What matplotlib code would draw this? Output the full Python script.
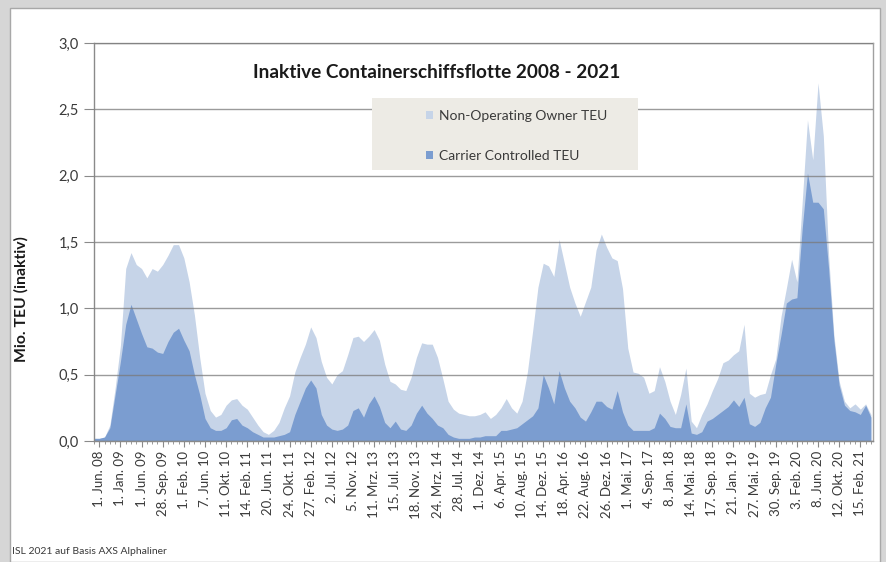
import numpy as np
import matplotlib
matplotlib.use('Agg')
import matplotlib.pyplot as plt
from matplotlib.patches import Rectangle

plt.rcParams['font.family'] = ['Lato', 'DejaVu Sans']

# Beschriftung der Kategorieachse (jede 18. Woche)
datum_labels = ["1. Jun. 08", "1. Jan. 09", "1. Jun. 09", "28. Sep. 09", "1. Feb. 10",
                "7. Jun. 10", "11. Okt. 10", "14. Feb. 11", "20. Jun. 11", "24. Okt. 11",
                "27. Feb. 12", "2. Jul. 12", "5. Nov. 12", "11. Mrz. 13", "15. Jul. 13",
                "18. Nov. 13", "24. Mrz. 14", "28. Jul. 14", "1. Dez. 14", "6. Apr. 15",
                "10. Aug. 15", "14. Dez. 15", "18. Apr. 16", "22. Aug. 16", "26. Dez. 16",
                "1. Mai. 17", "4. Sep. 17", "8. Jan. 18", "14. Mai. 18", "17. Sep. 18",
                "21. Jan. 19", "27. Mai. 19", "30. Sep. 19", "3. Feb. 20", "8. Jun. 20",
                "12. Okt. 20", "15. Feb. 21"]

# inaktive Flotte gesamt (Carrier + Non-Operating Owner), Mio. TEU
# 4 Werte je Label-Abstand, beginnend eine Viertel-Stufe vor "1. Jun. 08"
gesamt = [0.02,
          0.02, 0.03, 0.12, 0.40,   0.72, 1.30, 1.42, 1.33,   1.30, 1.23, 1.30, 1.28,
          1.33, 1.40, 1.48, 1.48,   1.38, 1.20, 0.95, 0.63,   0.36, 0.23, 0.18, 0.20,
          0.27, 0.31, 0.32, 0.27,   0.24, 0.18, 0.12, 0.07,   0.05, 0.08, 0.14, 0.25,
          0.34, 0.52, 0.63, 0.73,   0.86, 0.78, 0.60, 0.48,   0.43, 0.50, 0.53, 0.65,
          0.78, 0.79, 0.75, 0.79,   0.84, 0.76, 0.58, 0.45,   0.43, 0.39, 0.38, 0.48,
          0.63, 0.74, 0.73, 0.73,   0.63, 0.47, 0.30, 0.24,   0.21, 0.20, 0.19, 0.19,
          0.20, 0.22, 0.17, 0.20,   0.25, 0.32, 0.25, 0.21,   0.30, 0.52, 0.83, 1.16,
          1.34, 1.32, 1.24, 1.52,   1.34, 1.16, 1.04, 0.94,   1.05, 1.16, 1.44, 1.56,
          1.46, 1.38, 1.36, 1.15,   0.70, 0.52, 0.51, 0.48,   0.36, 0.38, 0.56, 0.45,
          0.30, 0.20, 0.35, 0.55,   0.15, 0.10, 0.20, 0.28,   0.38, 0.47, 0.59, 0.61,
          0.65, 0.68, 0.88, 0.36,   0.33, 0.35, 0.36, 0.50,   0.62, 0.94, 1.15, 1.37,
          1.20, 1.80, 2.42, 2.12,   2.70, 2.30, 1.40, 0.80,   0.45, 0.30, 0.25, 0.28,
          0.24, 0.28, 0.20]

# davon Carrier Controlled, Mio. TEU
carrier = [0.02,
           0.02, 0.03, 0.10, 0.35,   0.60, 0.88, 1.03, 0.92,   0.81, 0.71, 0.70, 0.67,
           0.66, 0.75, 0.82, 0.85,   0.76, 0.68, 0.50, 0.35,   0.17, 0.10, 0.08, 0.08,
           0.10, 0.16, 0.17, 0.12,   0.10, 0.07, 0.05, 0.03,   0.03, 0.03, 0.04, 0.05,
           0.07, 0.20, 0.30, 0.40,   0.46, 0.40, 0.20, 0.12,   0.09, 0.08, 0.09, 0.12,
           0.23, 0.25, 0.18, 0.28,   0.34, 0.26, 0.14, 0.10,   0.15, 0.09, 0.08, 0.12,
           0.21, 0.27, 0.21, 0.17,   0.12, 0.10, 0.05, 0.03,   0.02, 0.02, 0.02, 0.03,
           0.03, 0.04, 0.04, 0.04,   0.08, 0.08, 0.09, 0.10,   0.13, 0.16, 0.19, 0.25,
           0.50, 0.40, 0.28, 0.53,   0.40, 0.30, 0.25, 0.18,   0.15, 0.22, 0.30, 0.30,
           0.26, 0.24, 0.38, 0.22,   0.12, 0.08, 0.08, 0.08,   0.08, 0.10, 0.21, 0.17,
           0.11, 0.10, 0.10, 0.28,   0.06, 0.05, 0.07, 0.15,   0.17, 0.20, 0.23, 0.26,
           0.31, 0.26, 0.33, 0.13,   0.11, 0.14, 0.25, 0.33,   0.58, 0.80, 1.04, 1.07,
           1.08, 1.60, 2.02, 1.80,   1.80, 1.75, 1.30, 0.76,   0.42, 0.27, 0.23, 0.22,
           0.20, 0.27, 0.18]

print(len(gesamt), len(carrier))

# Kategorie-Position in Label-Einheiten
x = -0.25 + 0.25 * np.arange(len(gesamt))
gesamt = np.array(gesamt)
carrier = np.array(carrier)

hell = '#c6d4e8'
dunkel = '#7b9dd0'
grau = '#8a8a8a'
textfarbe = '#3a3a3a'

fig = plt.figure(figsize=(8.87, 5.62), dpi=100)
fig.patch.set_facecolor('#d6d6d6')

# weisser Rahmen wie im Excel-Diagramm (hinter allem)
rahmen = Rectangle((10/887, 0), 870/887, 1 - 8/562, transform=fig.transFigure,
                   facecolor='white', edgecolor='#a8a8a8', lw=1.0, zorder=-10)
fig.patches.append(rahmen)

ax = fig.add_axes([94/887, 1 - 441/562, (873-94)/887, (441-43)/562])
ax.set_facecolor('white')

ax.fill_between(x, 0, gesamt, color=hell, lw=0, label='Non-Operating Owner TEU', zorder=1)
ax.fill_between(x, 0, carrier, color=dunkel, lw=0, label='Carrier Controlled TEU', zorder=1.5)

ax.set_ylim(0, 3.0)
ax.set_xlim(-0.14, 36.6)
ax.set_yticks(np.arange(0, 3.01, 0.5))
ax.set_yticklabels([("%.1f" % v).replace('.', ',') for v in np.arange(0, 3.01, 0.5)],
                   fontsize=10.5, color=textfarbe)
# Gitterlinien liegen sichtbar ueber den Flaechen
ax.set_axisbelow(False)
ax.yaxis.grid(True, color='#7a7a7a', lw=1.0, alpha=0.75)

ax.set_xticks(np.arange(len(datum_labels)))
ax.set_xticklabels(datum_labels, rotation=90, fontsize=9.5, color=textfarbe)
ax.set_xticks(x, minor=True)
ax.tick_params(axis='x', which='major', length=4, color=grau, pad=3)
ax.tick_params(axis='x', which='minor', length=2, color=grau)
ax.tick_params(axis='y', length=7, color=grau, pad=4)

for s in ['left', 'bottom', 'right', 'top']:
    ax.spines[s].set_color('#a0a0a0')
    ax.spines[s].set_linewidth(1.0)
ax.spines['left'].set_color(grau)
ax.spines['bottom'].set_color(grau)

# Legendenhintergrund ueber den Gitterlinien
ax.add_patch(Rectangle((372/887, 1 - 170/562), 266/887, 72/562, transform=fig.transFigure,
                       facecolor='#edebe5', edgecolor='none', clip_on=False, zorder=10))
leg = ax.legend(loc='center left', bbox_to_anchor=(414/887, 1 - 136/562),
                bbox_transform=fig.transFigure, frameon=False, fontsize=10,
                handlelength=0.5, handleheight=0.5, handletextpad=0.4,
                labelspacing=2.0)
leg.set_zorder(11)
for t in leg.get_texts():
    t.set_color(textfarbe)

fig.text(437/887, 1 - 72/562, 'Inaktive Containerschiffsflotte 2008 - 2021',
         ha='center', va='center', fontsize=13.7, fontweight='bold', color='#1a1a1a')
fig.text(21/887, 1 - 299/562, 'Mio. TEU (inaktiv)', rotation=90, ha='center',
         va='center', fontsize=11.3, fontweight='bold', color='#1a1a1a')
fig.text(12/887, 1 - 551/562, 'ISL 2021 auf Basis AXS Alphaliner', ha='left',
         va='center', fontsize=7.5, color=textfarbe)

plt.savefig('out.png', dpi=100, facecolor=fig.get_facecolor())
